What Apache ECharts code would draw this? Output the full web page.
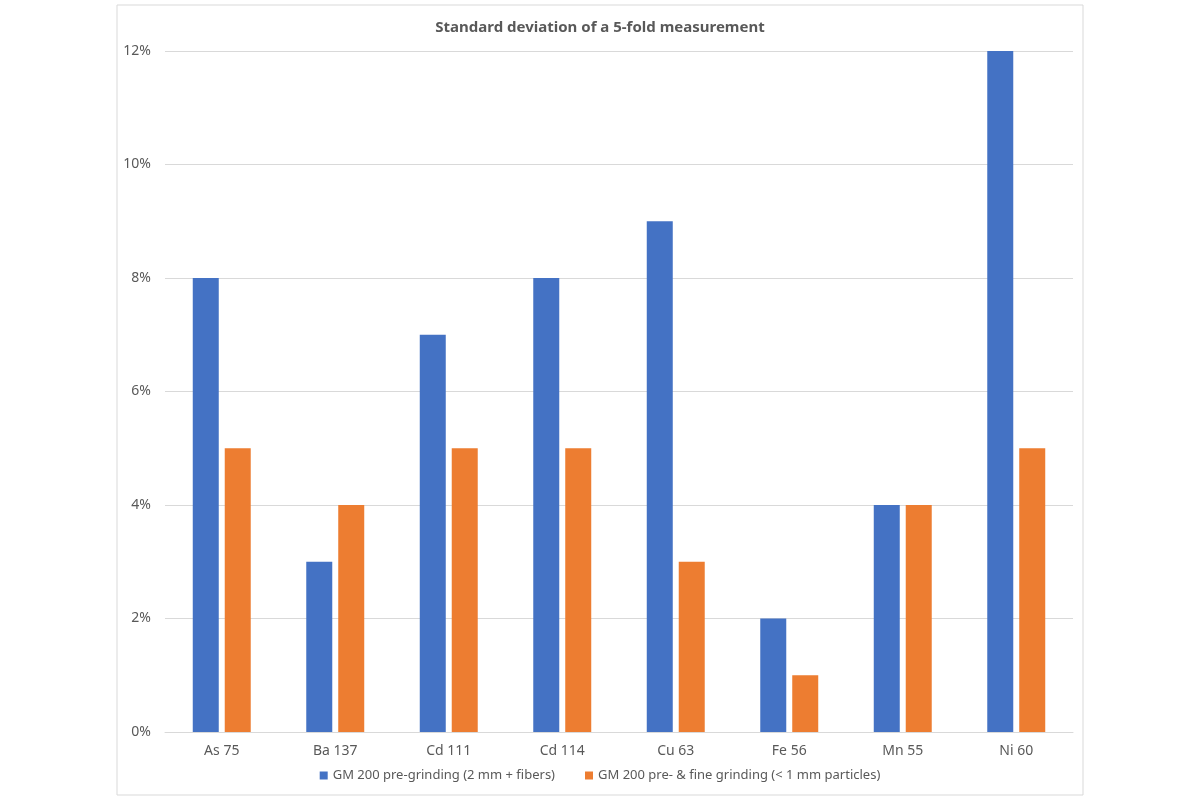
<!DOCTYPE html>
<html lang="en">
<head>
<meta charset="UTF-8">
<title>Standard deviation</title>
<script src="https://cdn.jsdelivr.net/npm/echarts@6/dist/echarts.min.js"></script>
<style>
  html, body { margin: 0; padding: 0; background: #fff; }
  #chart { width: 1200px; height: 800px; }
</style>
</head>
<body>
<div id="chart"></div>
<script>
// element / isotope categories
var categories = ['As 75', 'Ba 137', 'Cd 111', 'Cd 114', 'Cu 63', 'Fe 56', 'Mn 55', 'Ni 60'];
// standard deviation in percent
var preGrinding = [8, 3, 7, 8, 9, 2, 4, 12];
var fineGrinding = [5, 4, 5, 5, 3, 1, 4, 5];
var seriesNames = ['GM 200 pre-grinding (2 mm + fibers)', 'GM 200 pre- & fine grinding (< 1 mm particles)'];

var font = 'Noto Sans';
var textColor = '#595959';

var chart = echarts.init(document.getElementById('chart'));

chart.setOption({
    animation: false,
    backgroundColor: '#fff',
    textStyle: { fontFamily: font },
    graphic: [{
        type: 'rect',
        shape: { x: 117, y: 5, width: 966, height: 790 },
        style: { fill: 'none', stroke: '#d9d9d9', lineWidth: 1 },
        z: -1
    }],
    title: {
        text: 'Standard deviation of a 5-fold measurement',
        left: 'center',
        top: 15,
        textStyle: { fontFamily: font, fontSize: 15, fontWeight: 'bold', color: textColor }
    },
    legend: {
        bottom: 13,
        left: 'center',
        itemWidth: 8,
        itemHeight: 8,
        itemGap: 30,
        icon: 'rect',
        textStyle: { fontFamily: font, fontSize: 13, color: textColor },
        data: seriesNames
    },
    grid: {
        left: 165,
        right: 127,
        top: 51,
        bottom: 68,
        containLabel: false
    },
    xAxis: {
        type: 'category',
        data: categories,
        axisLine: { lineStyle: { color: '#d9d9d9' } },
        axisTick: { show: false },
        axisLabel: { color: textColor, fontFamily: font, fontSize: 14, margin: 12 }
    },
    yAxis: {
        type: 'value',
        min: 0,
        max: 12,
        interval: 2,
        axisLine: { show: false },
        axisTick: { show: false },
        splitLine: { lineStyle: { color: '#d9d9d9' } },
        axisLabel: {
            color: textColor, fontFamily: font, fontSize: 14, margin: 14,
            formatter: function (v) { return v + '%'; }
        }
    },
    series: [{
        name: seriesNames[0],
        type: 'bar',
        data: preGrinding,
        barWidth: 26,
        barGap: '23%',
        itemStyle: { color: '#4472C4' }
    }, {
        name: seriesNames[1],
        type: 'bar',
        data: fineGrinding,
        barWidth: 26,
        itemStyle: { color: '#ED7D31' }
    }]
});
</script>
</body>
</html>
